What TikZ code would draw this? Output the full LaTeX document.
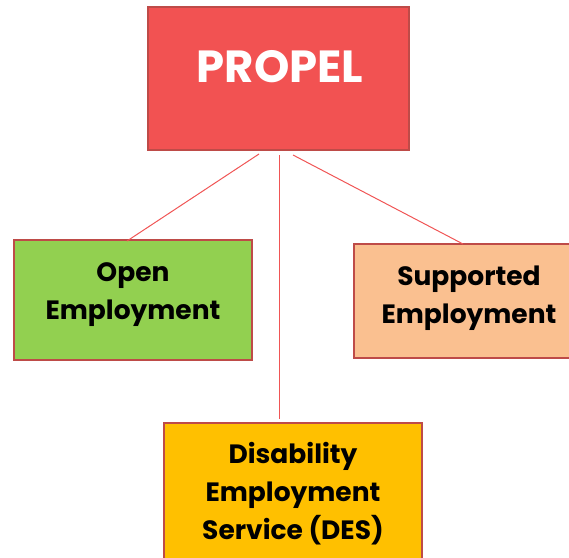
\documentclass[tikz,border=0pt]{standalone}
\usepackage{fontspec}
\setmainfont{Poppins}
\usetikzlibrary{calc}
\definecolor{propelred}{HTML}{F25252}
\definecolor{bordred}{HTML}{BE4B48}
\definecolor{linered}{HTML}{F05555}
\definecolor{greenfill}{HTML}{92D050}
\definecolor{orangefill}{HTML}{FAC090}
\definecolor{yellowfill}{HTML}{FFC000}
\tikzset{
  box/.style={draw=bordred, line width=2.8pt, inner sep=0pt},
  lbl/.style={align=center, inner sep=0pt, font=\bfseries\fontsize{26.5}{38}\selectfont},
  conn/.style={draw=linered, line width=1pt},
}
\begin{document}
\begin{tikzpicture}[x=1pt,y=-1pt]
\useasboundingbox (0,0) rectangle (569,557);
\clip (0,0) rectangle (569,557);
\node[box, fill=propelred, minimum width=261pt, minimum height=143pt] (propel) at (278.5,78.5) {};
\node[text=white, font=\bfseries\fontsize{45}{50}\selectfont, inner sep=0pt] (propeltxt) at (280,67) {PROPEL};
\node[box, fill=greenfill, minimum width=238pt, minimum height=120pt] (open) at (133,300) {};
\node[lbl] (opentxt) at (133,295) {Open\\Employment};
\node[box, fill=orangefill, minimum width=230pt, minimum height=114pt] (supp) at (469,301) {};
\node[lbl] (supptxt) at (469,298) {Supported\\Employment};
\node[box, fill=yellowfill, minimum width=258pt, minimum height=150pt] (des) at (293,498) {};
\node[lbl] (destxt) at (293,494) {Disability\\Employment\\Service (DES)};
\coordinate (s1) at (259,154);
\coordinate (s2) at (279,155);
\coordinate (s3) at (293,155);
\coordinate (e1) at (127,241);
\coordinate (e2) at (279,419);
\coordinate (e3) at (463,244);
\draw[conn] (s1) -- (e1);
\draw[conn] (s2) -- (e2);
\draw[conn] (s3) -- (e3);
\end{tikzpicture}
\end{document}
